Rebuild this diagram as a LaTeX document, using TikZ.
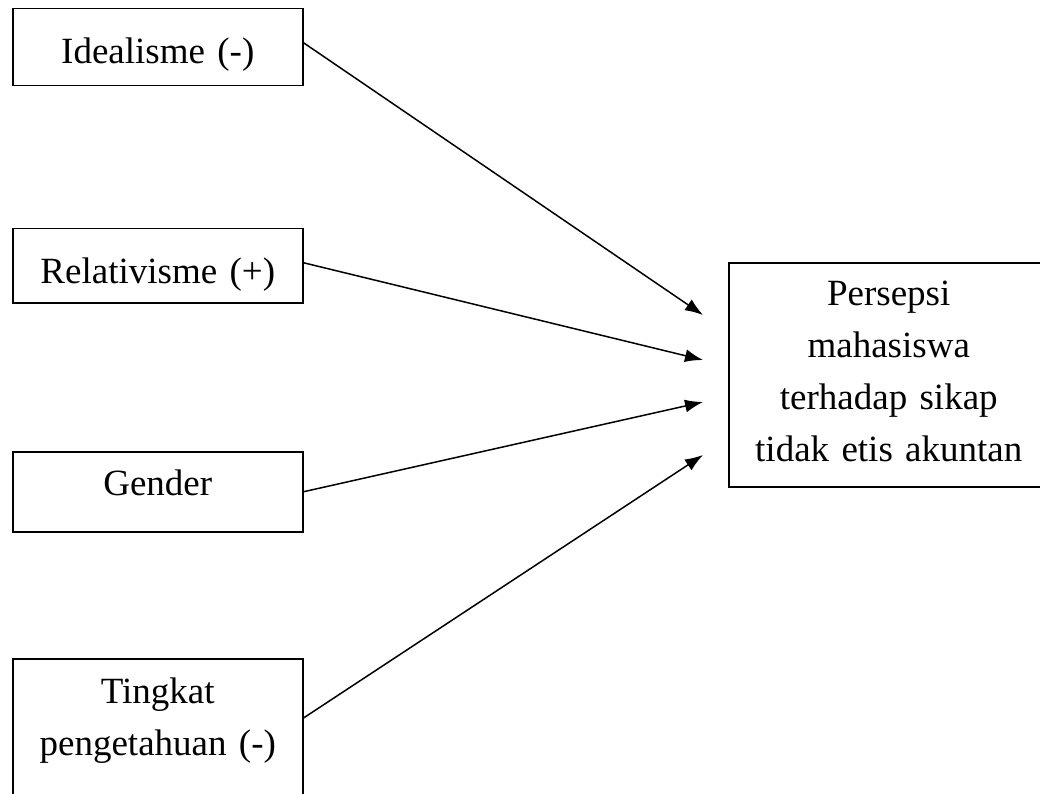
\documentclass[tikz,border=0pt]{standalone}
\usepackage{fontspec}
\setmainfont{Liberation Serif}
\usetikzlibrary{calc, arrows.meta}
\tikzstyle{var}=[draw, line width=1.5pt, anchor=north west, inner sep=0pt, text width=290pt, align=center, font=\fontsize{37}{52}\selectfont]
\tikzstyle{dep}=[var, text width=320pt]

\begin{document}
\begin{tikzpicture}[x=1pt,y=-1pt,>={Latex[length=18pt,width=13pt]}]
      \useasboundingbox (0,0) rectangle (1040,794);
      \node [var, text height=55pt, text depth=22pt] (ideal) at (12,8) {Idealisme (-)};
      \node [var, text height=55pt, text depth=19pt] (relat) at (12,228) {Relativisme (+)};
      \node [var, text height=44pt, text depth=36pt] (gender) at (12,451) {Gender};
      \node [var, text height=45pt, text depth=150pt] (tingkat) at (12,658) {Tingkat\\ pengetahuan (-)};
      \node [dep, text height=43pt, text depth=181pt] (persepsi) at (728,262) {Persepsi\\ mahasiswa\\ terhadap sikap\\ tidak etis akuntan};
      \draw[->, line width=1.5pt] ([yshift=4.5pt]ideal.east) -- ($(persepsi.north west)+(-25,53)$);
      \draw[->, line width=1.5pt] ([yshift=3pt]relat.east) -- ($(persepsi.north west)+(-25,98)$);
      \draw[->, line width=1.5pt] (gender.east) -- ($(persepsi.north west)+(-25,140)$);
      \draw[->, line width=1.5pt] ([yshift=-60pt]tingkat.north east) -- ($(persepsi.north west)+(-25,193)$);
\end{tikzpicture}
\end{document}
